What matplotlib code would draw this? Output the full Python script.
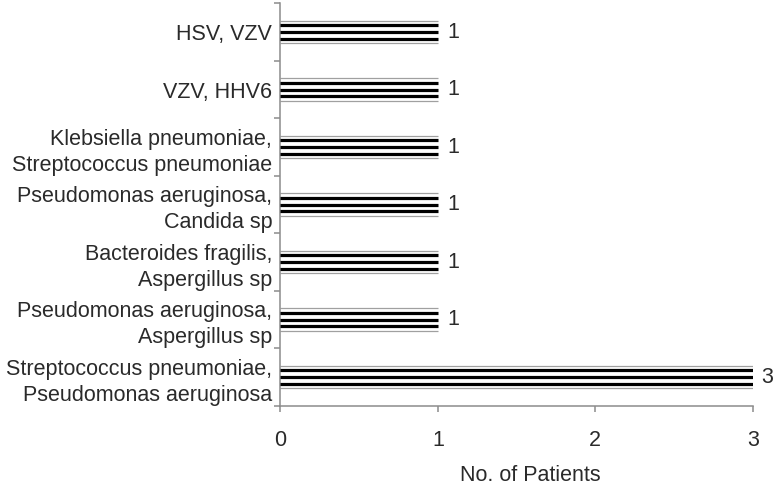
import numpy as np
import matplotlib
matplotlib.use("Agg")
import matplotlib.pyplot as plt
from matplotlib.ticker import FixedLocator

plt.rcParams['font.family'] = ['Liberation Sans', 'DejaVu Sans']

# categories listed bottom to top
labels = ['Streptococcus pneumoniae,\nPseudomonas aeruginosa',
          'Pseudomonas aeruginosa,\nAspergillus sp',
          'Bacteroides fragilis,\nAspergillus sp',
          'Pseudomonas aeruginosa,\nCandida sp',
          'Klebsiella pneumoniae,\nStreptococcus pneumoniae',
          'VZV, HHV6',
          'HSV, VZV']
patients = [3, 1, 1, 1, 1, 1, 1]
xticks = [0, 1, 2, 3]

txt = '#2a2a2a'
axcol = '#8c8c8c'

fig = plt.figure(figsize=(7.77, 4.86), dpi=100)
ax = fig.add_axes([0.361, 0.1646, 0.6077, 0.8286])

y = np.arange(len(labels))
vals = np.array(patients)

# thin gray bar edges plus three heavy stripes inside
ax.hlines(y - 0.195, 0, vals, colors='#a0a0a0', linewidth=0.9, zorder=2)
ax.hlines(y + 0.195, 0, vals, colors='#a0a0a0', linewidth=0.9, zorder=2)
for off in (-0.118, 0.0, 0.118):
    ax.hlines(y + off, 0, vals, colors='black', linewidth=2.3, zorder=3)

for yi, v in zip(y, vals):
    ax.annotate(str(v), (v, yi), xytext=(6.5, 0), textcoords='offset points',
                ha='left', va='center', fontsize=15.5, color=txt, annotation_clip=False)

ax.set_xlim(0, 3)
ax.set_ylim(-0.5, len(labels) - 0.5)
ax.set_xticks(xticks)
ax.set_xticklabels([str(t) for t in xticks], fontsize=15.5, color=txt)
ax.set_yticks(y)
ax.set_yticklabels(labels, fontsize=15.5, color=txt, linespacing=1.33)
ax.yaxis.set_minor_locator(FixedLocator(np.arange(-0.5, len(labels), 1.0)))

ax.tick_params(axis='y', which='major', length=0, pad=6)
ax.tick_params(axis='y', which='minor', length=4.3, width=1.1, color=axcol, direction='out')
ax.tick_params(axis='x', which='major', length=4.3, width=1.1, color=axcol, direction='out', pad=13)

for s in ['top', 'right']:
    ax.spines[s].set_visible(False)
for s in ['left', 'bottom']:
    ax.spines[s].set_color(axcol)
    ax.spines[s].set_linewidth(1.1)

ax.set_xlabel('No. of Patients', fontsize=15.5, color=txt)
ax.xaxis.set_label_coords(0.53, -0.146)

fig.savefig('out.png', dpi=100)
